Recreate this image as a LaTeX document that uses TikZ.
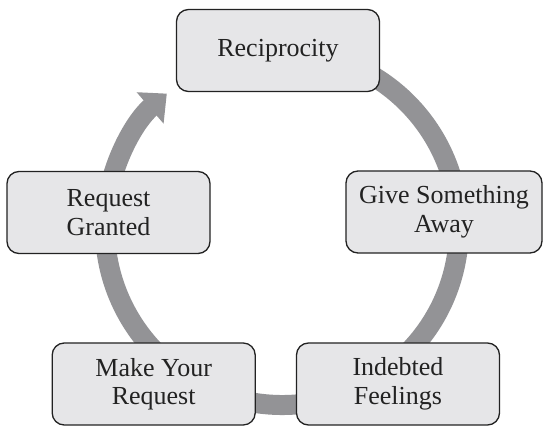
\documentclass[tikz,border=0pt]{standalone}
\usepackage{fontspec}
\setmainfont{Liberation Serif}
\usepackage{tikz}
\usetikzlibrary{arrows.meta,positioning}

\definecolor{ringgray}{RGB}{147,147,150}
\definecolor{boxgray}{RGB}{230,230,232}
\definecolor{inkgray}{RGB}{34,34,34}

\tikzset{stepbox/.style={draw=inkgray, line width=1.3pt, fill=boxgray,
  rounded corners=12pt, minimum width=203pt, minimum height=82pt,
  inner sep=0pt, align=center, text=inkgray,
  font=\fontsize{26}{28.5}\selectfont}}

\begin{document}
\begin{tikzpicture}[x=1pt,y=1pt]
\useasboundingbox (0,0) rectangle (544,426);

% the cycle
\coordinate (c) at (282,198);
\draw[ringgray, line width=20pt, -{Triangle[length=22pt,width=40pt]}]
  (c) ++(80:177) arc (80:-229.4:177);

% steps
\node[stepbox] (recip) at (278,375.5) {Reciprocity};
\node[stepbox, minimum width=196pt] (give) at (444,214) {Give Something\\Away};
\node[stepbox] (indebted) at (398,42) {Indebted\\Feelings};
\node[stepbox, left=40pt of indebted] (make) {Make Your\\Request};
\node[stepbox] (granted) at (108.5,213.5) {Request\\Granted};
\end{tikzpicture}
\end{document}
